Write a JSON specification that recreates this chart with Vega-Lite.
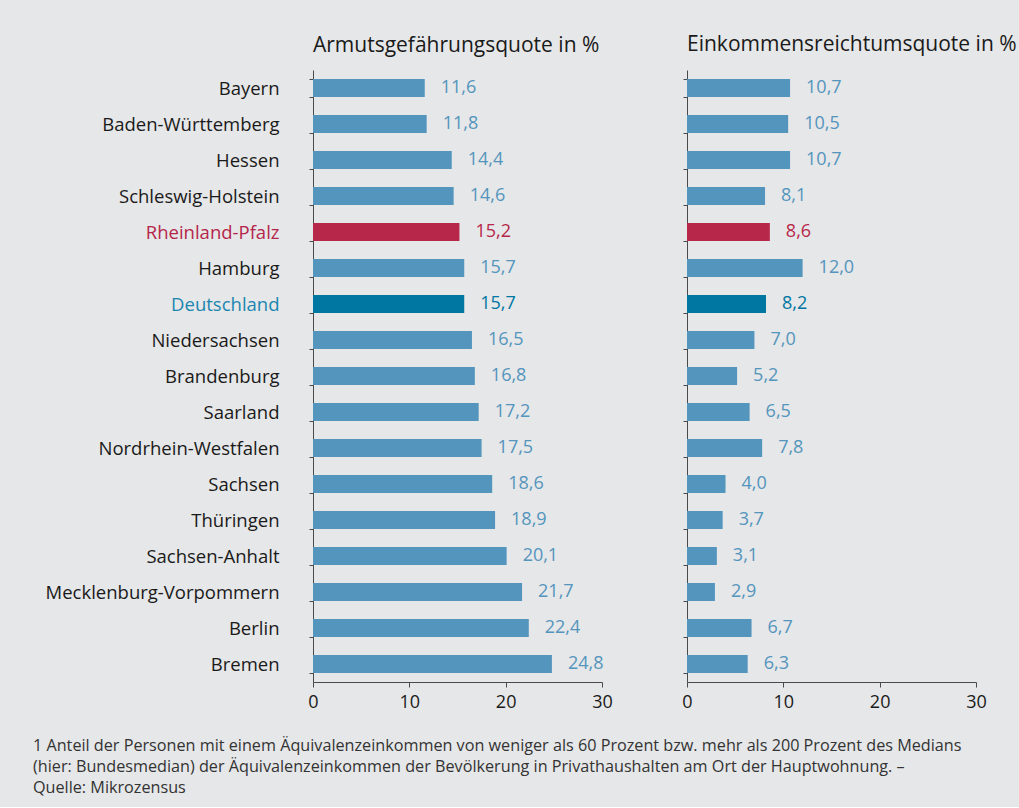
{
  "$schema": "https://vega.github.io/schema/vega-lite/v6.json",
  "background": "#e6e7e8",
  "padding": {"left": 33, "top": 34, "right": 7, "bottom": 10},
  "config": {
    "font": "Open Sans",
    "locale": {"number": {"decimal": ",", "thousands": ".", "grouping": [3], "currency": ["", " €"]}},
    "view": {"stroke": null},
    "axis": {"grid": false, "domainColor": "#4a4a4a", "tickColor": "#4a4a4a", "labelColor": "#1a1a1a", "labelFontSize": 18, "labelFont": "Open Sans"}
  },
  "bounds": "flush",
  "spacing": 85,
  "title": {
    "text": [
      "1 Anteil der Personen mit einem Äquivalenzeinkommen von weniger als 60 Prozent bzw. mehr als 200 Prozent des Medians",
      "(hier: Bundesmedian) der Äquivalenzeinkommen der Bevölkerung in Privathaushalten am Ort der Hauptwohnung. –",
      "Quelle: Mikrozensus"
    ],
    "orient": "bottom", "anchor": "start", "fontSize": 16.2, "fontWeight": "normal", "color": "#333333",
    "lineHeight": 21, "offset": 27, "dx": -11, "font": "Open Sans"
  },
  "data": {"values": [
    {"land": "Bayern", "arm": 11.6, "eink": 10.7, "group": "Land"},
    {"land": "Baden-Württemberg", "arm": 11.8, "eink": 10.5, "group": "Land"},
    {"land": "Hessen", "arm": 14.4, "eink": 10.7, "group": "Land"},
    {"land": "Schleswig-Holstein", "arm": 14.6, "eink": 8.1, "group": "Land"},
    {"land": "Rheinland-Pfalz", "arm": 15.2, "eink": 8.6, "group": "RLP"},
    {"land": "Hamburg", "arm": 15.7, "eink": 12.0, "group": "Land"},
    {"land": "Deutschland", "arm": 15.7, "eink": 8.2, "group": "DE"},
    {"land": "Niedersachsen", "arm": 16.5, "eink": 7.0, "group": "Land"},
    {"land": "Brandenburg", "arm": 16.8, "eink": 5.2, "group": "Land"},
    {"land": "Saarland", "arm": 17.2, "eink": 6.5, "group": "Land"},
    {"land": "Nordrhein-Westfalen", "arm": 17.5, "eink": 7.8, "group": "Land"},
    {"land": "Sachsen", "arm": 18.6, "eink": 4.0, "group": "Land"},
    {"land": "Thüringen", "arm": 18.9, "eink": 3.7, "group": "Land"},
    {"land": "Sachsen-Anhalt", "arm": 20.1, "eink": 3.1, "group": "Land"},
    {"land": "Mecklenburg-Vorpommern", "arm": 21.7, "eink": 2.9, "group": "Land"},
    {"land": "Berlin", "arm": 22.4, "eink": 6.7, "group": "Land"},
    {"land": "Bremen", "arm": 24.8, "eink": 6.3, "group": "Land"}
  ]},
  "hconcat": [
    {
      "width": 289, "height": 612,
      "title": {"text": "Armutsgefährungsquote in %", "anchor": "start", "frame": "group", "fontSize": 21, "fontWeight": "normal", "color": "#1a1a1a", "offset": 5},
      "encoding": {
        "y": {"field": "land", "type": "nominal",
          "sort": ["Bayern", "Baden-Württemberg", "Hessen", "Schleswig-Holstein", "Rheinland-Pfalz", "Hamburg", "Deutschland", "Niedersachsen", "Brandenburg", "Saarland", "Nordrhein-Westfalen", "Sachsen", "Thüringen", "Sachsen-Anhalt", "Mecklenburg-Vorpommern", "Berlin", "Bremen"],
          "scale": {"paddingInner": 0.5, "paddingOuter": 0.25},
          "axis": {"title": null, "tickBand": "extent", "tickSize": 4, "labelPadding": 30, "labelLimit": 300, "labelFontSize": 18.5, "minExtent": 269, "maxExtent": 269,
            "labelColor": {"condition": [{"test": "datum.value === 'Rheinland-Pfalz'", "value": "#b5254a"}, {"test": "datum.value === 'Deutschland'", "value": "#1a86b0"}], "value": "#1a1a1a"}}},
        "x": {"field": "arm", "type": "quantitative", "scale": {"domain": [0, 30]},
          "axis": {"title": null, "values": [0, 10, 20, 30], "tickSize": 5, "labelPadding": 6, "labelFlush": false}},
        "color": {"field": "group", "type": "nominal", "scale": {"domain": ["Land", "RLP", "DE"], "range": ["#5495bd", "#b7274a", "#0076a3"]}, "legend": null}
      },
      "layer": [
        {"mark": {"type": "bar"}},
        {"mark": {"type": "text", "align": "left", "dx": 16, "fontSize": 18},
          "encoding": {"text": {"field": "arm", "type": "quantitative", "format": ".1f"}}}
      ]
    },
    {
      "width": 289, "height": 612,
      "title": {"text": "Einkommensreichtumsquote in %", "anchor": "start", "frame": "group", "fontSize": 21, "fontWeight": "normal", "color": "#1a1a1a", "offset": 15},
      "encoding": {
        "y": {"field": "land", "type": "nominal",
          "sort": ["Bayern", "Baden-Württemberg", "Hessen", "Schleswig-Holstein", "Rheinland-Pfalz", "Hamburg", "Deutschland", "Niedersachsen", "Brandenburg", "Saarland", "Nordrhein-Westfalen", "Sachsen", "Thüringen", "Sachsen-Anhalt", "Mecklenburg-Vorpommern", "Berlin", "Bremen"],
          "scale": {"paddingInner": 0.5, "paddingOuter": 0.25},
          "axis": {"title": null, "tickBand": "extent", "tickSize": 4, "labels": false}},
        "x": {"field": "eink", "type": "quantitative", "scale": {"domain": [0, 30]},
          "axis": {"title": null, "values": [0, 10, 20, 30], "tickSize": 5, "labelPadding": 6, "labelFlush": false}},
        "color": {"field": "group", "type": "nominal", "scale": {"domain": ["Land", "RLP", "DE"], "range": ["#5495bd", "#b7274a", "#0076a3"]}, "legend": null}
      },
      "layer": [
        {"mark": {"type": "bar"}},
        {"mark": {"type": "text", "align": "left", "dx": 16, "fontSize": 18},
          "encoding": {"text": {"field": "eink", "type": "quantitative", "format": ".1f"}}}
      ]
    }
  ]
}
